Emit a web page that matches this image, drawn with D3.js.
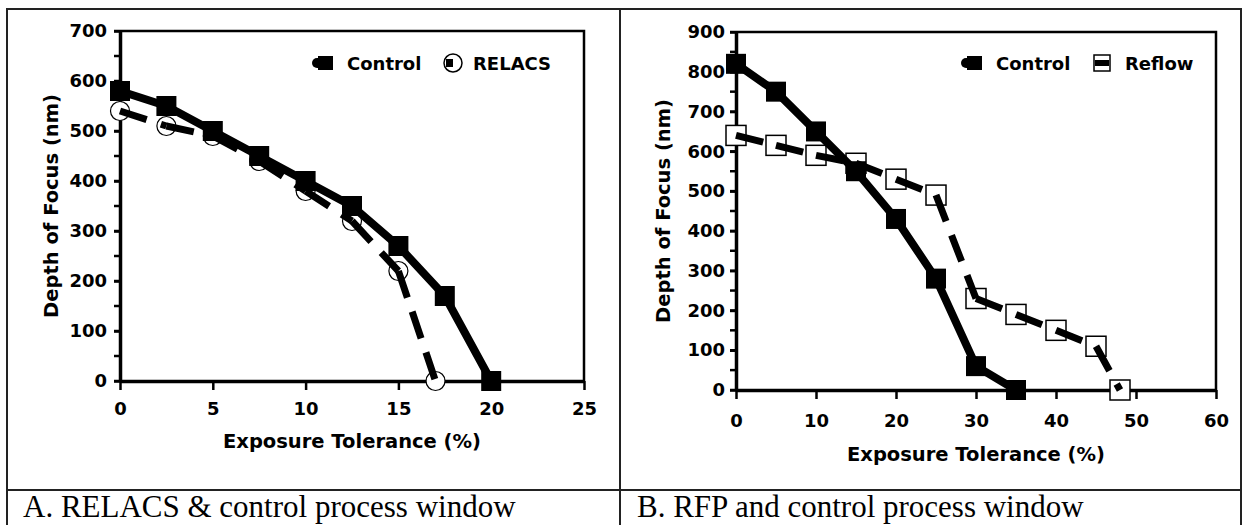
<!DOCTYPE html>
<html lang="en">

<head>
    <meta charset="utf-8">
    <style>
        body {
            margin: 0;
            background: #fff;
            font-family: 'DejaVu Sans', sans-serif;
        }
    </style>
</head>

<body>
    <div class='figure'></div>
    <script src="https://d3js.org/d3.v7.min.js"></script>
    <script>
        // --- data ---
        // panel A : RELACS vs control
        const controlAX = [0, 2.5, 5, 7.5, 10, 12.5, 15, 17.5, 20];
        const controlAY = [580, 550, 500, 450, 400, 350, 270, 170, 0];
        const relacsX = [0, 2.5, 5, 7.5, 10, 12.5, 15, 17];
        const relacsY = [540, 510, 490, 440, 380, 320, 220, 0];
        const xTicksA = [0, 5, 10, 15, 20, 25];
        const yTicksA = [0, 100, 200, 300, 400, 500, 600, 700];

        // panel B : Reflow vs control
        const controlBX = [0, 5, 10, 15, 20, 25, 30, 35];
        const controlBY = [820, 750, 650, 550, 430, 280, 60, 0];
        const reflowX = [0, 5, 10, 15, 20, 25, 30, 35, 40, 45, 48];
        const reflowY = [640, 615, 590, 570, 530, 490, 230, 190, 150, 110, 0];
        const xTicksB = [0, 10, 20, 30, 40, 50, 60];
        const yTicksB = [0, 100, 200, 300, 400, 500, 600, 700, 800, 900];

        const captions = ['A. RELACS & control process window', 'B. RFP and control process window'];
        const xTitle = 'Exposure Tolerance (%)';
        const yTitle = 'Depth of Focus (nm)';

        const W = 1244, H = 525;
        const svg = d3.select('.figure').append('svg')
            .attr('width', W).attr('height', H);

        // table lines around the two panels
        const table = svg.append('g').attr('stroke', '#222').attr('stroke-width', 2).attr('fill', 'none');
        table.append('path').attr('d', `M7,${H} V9 H1241 V${H}`);
        table.append('line').attr('x1', 620).attr('x2', 620).attr('y1', 9).attr('y2', H);
        table.append('line').attr('x1', 7).attr('x2', 1241).attr('y1', 490).attr('y2', 490);

        svg.selectAll('text.caption')
            .data(captions)
            .enter()
            .append('text')
            .attr('class', 'caption')
            .attr('x', (d, i) => i === 0 ? 23 : 637)
            .attr('y', 517)
            .style('font-family', "'Liberation Serif', 'Times New Roman', serif")
            .style('font-size', '31px')
            .text(d => d);

        function pts(xs, ys) { return xs.map((x, i) => [x, ys[i]]); }

        function panel(cfg) {
            const g = svg.append('g');
            const x = d3.scaleLinear().domain(cfg.xDomain).range(cfg.xRange);
            const y = d3.scaleLinear().domain(cfg.yDomain).range(cfg.yRange);

            // frame (top + right)
            g.append('path')
                .attr('d', `M${cfg.xRange[0]},${cfg.yRange[1]} H${cfg.xRange[1]} V${cfg.yRange[0]}`)
                .attr('fill', 'none').attr('stroke', '#000').attr('stroke-width', 2.5);

            // minor y ticks
            const minor = d3.range(cfg.yDomain[0], cfg.yDomain[1] + 1, 50);
            g.append('g').selectAll('line')
                .data(minor)
                .enter()
                .append('line')
                .attr('x1', cfg.xRange[0] - 6).attr('x2', cfg.xRange[0])
                .attr('y1', d => y(d)).attr('y2', d => y(d))
                .attr('stroke', '#000').attr('stroke-width', 2.5);

            const yAxis = g.append('g')
                .attr('transform', `translate(${cfg.xRange[0]},0)`)
                .call(d3.axisLeft(y).tickValues(cfg.yTicks).tickSize(6).tickPadding(cfg.yPad).tickSizeOuter(0));
            const xAxis = g.append('g')
                .attr('transform', `translate(0,${cfg.yRange[0]})`)
                .call(d3.axisBottom(x).tickValues(cfg.xTicks).tickSize(9).tickPadding(cfg.xPad).tickSizeOuter(0));
            [xAxis, yAxis].forEach(a => {
                a.select('.domain').attr('stroke-width', 3.5);
                a.selectAll('.tick line').attr('stroke-width', 2.5);
                a.selectAll('text')
                    .style('font-family', "'DejaVu Sans', sans-serif")
                    .style('font-weight', 'bold')
                    .style('font-size', '18px')
                    .attr('fill', '#000');
            });

            g.append('text')
                .attr('x', (cfg.xRange[0] + cfg.xRange[1]) / 2)
                .attr('y', cfg.xTitleY)
                .attr('text-anchor', 'middle')
                .style('font-weight', 'bold').style('font-size', '19.5px')
                .text(xTitle);
            g.append('text')
                .attr('transform', `translate(${cfg.yTitleX},${(cfg.yRange[0] + cfg.yRange[1]) / 2}) rotate(-90)`)
                .attr('text-anchor', 'middle')
                .style('font-weight', 'bold').style('font-size', '19.5px')
                .text(yTitle);

            // dashed series : markers under, line segments above (pattern restarts at each point)
            const dp = pts(cfg.dashX, cfg.dashY);
            if (cfg.dashMarker === 'circle') {
                g.append('g').selectAll('circle')
                    .data(dp)
                    .enter()
                    .append('circle')
                    .attr('cx', d => x(d[0])).attr('cy', d => y(d[1]))
                    .attr('r', 9.5)
                    .attr('fill', '#fff').attr('stroke', '#000').attr('stroke-width', 1.2);
            } else {
                g.append('g').selectAll('rect')
                    .data(dp)
                    .enter()
                    .append('rect')
                    .attr('x', d => x(d[0]) - 10).attr('y', d => y(d[1]) - 10)
                    .attr('width', 20).attr('height', 20)
                    .attr('fill', '#fff').attr('stroke', '#000').attr('stroke-width', 1.5);
            }
            g.append('g').selectAll('line')
                .data(d3.pairs(dp))
                .enter()
                .append('line')
                .attr('x1', d => x(d[0][0])).attr('y1', d => y(d[0][1]))
                .attr('x2', d => x(d[1][0])).attr('y2', d => y(d[1][1]))
                .attr('stroke', '#000').attr('stroke-width', 7)
                .attr('stroke-dasharray', '28,15');

            // control series
            const cp = pts(cfg.ctrlX, cfg.ctrlY);
            g.append('path')
                .datum(cp)
                .attr('d', d3.line().x(d => x(d[0])).y(d => y(d[1])))
                .attr('fill', 'none').attr('stroke', '#000').attr('stroke-width', 8)
                .attr('stroke-linejoin', 'round');
            g.append('g').selectAll('rect')
                .data(cp)
                .enter()
                .append('rect')
                .attr('x', d => x(d[0]) - 10).attr('y', d => y(d[1]) - 10)
                .attr('width', 20).attr('height', 20)
                .attr('fill', '#000');

            // legend
            const lg = g.append('g').attr('transform', `translate(${cfg.legendX},${cfg.legendY})`);
            lg.append('line').attr('x1', 4).attr('x2', 12).attr('y1', 0).attr('y2', 0)
                .attr('stroke', '#000').attr('stroke-width', 10).attr('stroke-linecap', 'round');
            lg.append('rect').attr('x', 5).attr('y', -7).attr('width', 15).attr('height', 14).attr('fill', '#000');
            lg.append('text').attr('x', 34).attr('y', 6.5)
                .style('font-weight', 'bold').style('font-size', '18px').text('Control');
            const m2 = lg.append('g').attr('transform', `translate(${cfg.legend2},0)`);
            if (cfg.dashMarker === 'circle') {
                m2.append('circle').attr('cx', 10).attr('cy', 0).attr('r', 9)
                    .attr('fill', '#fff').attr('stroke', '#000').attr('stroke-width', 1.5);
                m2.append('rect').attr('x', 3).attr('y', -4).attr('width', 7).attr('height', 8).attr('fill', '#000');
            } else {
                m2.append('rect').attr('x', 1).attr('y', -8).attr('width', 16).attr('height', 16)
                    .attr('fill', '#fff').attr('stroke', '#000').attr('stroke-width', 1.5);
                m2.append('rect').attr('x', 2).attr('y', -3).attr('width', 14).attr('height', 6).attr('fill', '#000');
            }
            m2.append('text').attr('x', cfg.legend2Text).attr('y', 6.5)
                .style('font-weight', 'bold').style('font-size', '18px').text(cfg.dashName);
        }

        panel({
            xDomain: [0, 25], yDomain: [0, 700],
            xRange: [120, 584], yRange: [381, 31],
            xTicks: xTicksA, yTicks: yTicksA,
            yPad: 7, xPad: 12, xTitleY: 448, yTitleX: 58,
            ctrlX: controlAX, ctrlY: controlAY,
            dashX: relacsX, dashY: relacsY,
            dashMarker: 'circle', dashName: 'RELACS',
            legendX: 313, legendY: 63, legend2: 130, legend2Text: 30
        });

        panel({
            xDomain: [0, 60], yDomain: [0, 900],
            xRange: [736, 1216], yRange: [390, 32],
            xTicks: xTicksB, yTicks: yTicksB,
            yPad: 5, xPad: 15, xTitleY: 461, yTitleX: 670,
            ctrlX: controlBX, ctrlY: controlBY,
            dashX: reflowX, dashY: reflowY,
            dashMarker: 'square', dashName: 'Reflow',
            legendX: 962, legendY: 63, legend2: 131, legend2Text: 32
        });
    </script>
</body>

</html>
